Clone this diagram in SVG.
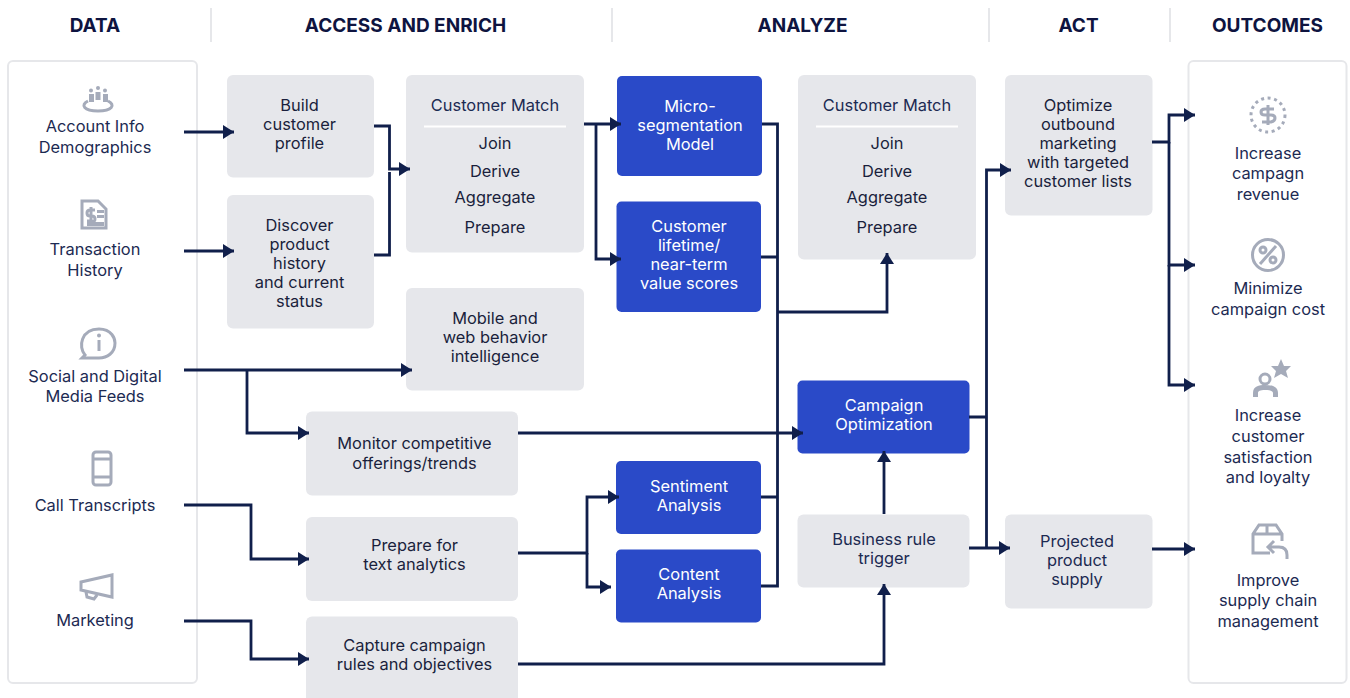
<svg xmlns="http://www.w3.org/2000/svg" width="1350" height="698" viewBox="0 0 1350 698">
<style>
text{font-family:"Inter","Noto Sans","Liberation Sans",sans-serif;font-size:16.4px;text-anchor:middle;fill:#1a1f3c}
.h{font-size:19px;font-weight:700;fill:#0e1440}
.s{fill:#1c2a52}
.w{fill:#fff}
.g{fill:#e6e7eb}
.b{fill:#2a4ac8}
.p{fill:#fff;stroke:#e6e7ea;stroke-width:2}
.d{stroke:#e6e7ea;stroke-width:2}
.c path{fill:none;stroke:#101f4b;stroke-width:2.8}
.i{fill:none;stroke:#a5abba;stroke-width:3}
.f{fill:#a5abba}
</style>
<defs><marker id="a" markerUnits="userSpaceOnUse" markerWidth="12" markerHeight="14" refX="11" refY="7" orient="auto"><path d="M0 0L11 7L0 14Z" fill="#101f4b"/></marker></defs>
<rect width="1350" height="698" fill="#fff"/>
<g id="headers">
<text class="h" x="95" y="32">DATA</text><text class="h" x="405.500" y="32">ACCESS AND ENRICH</text><text class="h" x="802.500" y="32">ANALYZE</text><text class="h" x="1078.500" y="32">ACT</text><text class="h" x="1267.500" y="32">OUTCOMES</text>
<path class="d" d="M211 8V42M612 8V42M989 8V42M1170 8V42"/>
</g>
<rect class="p" x="8" y="61" width="189" height="622" rx="5"/>
<rect class="p" x="1188.500" y="61" width="158" height="622" rx="5"/>
<g id="n-build"><rect class="g" x="227" y="75" width="147" height="102.500" rx="6"/><text x="299.500" y="111">Build</text><text x="299.500" y="130">customer</text><text x="299.500" y="149">profile</text></g>
<g id="n-discover"><rect class="g" x="227" y="195" width="147" height="133.500" rx="6"/><text x="299.500" y="231">Discover</text><text x="299.500" y="250">product</text><text x="299.500" y="269">history</text><text x="299.500" y="288">and current</text><text x="299.500" y="307">status</text></g>
<g id="n-match1"><rect class="g" x="406" y="75" width="178" height="177.500" rx="6"/><text class="s" x="495" y="111">Customer Match</text><path d="M424 126.500H566" stroke="#fff" stroke-width="2"/><text x="495" y="149">Join</text><text x="495" y="177">Derive</text><text x="495" y="203">Aggregate</text><text x="495" y="233">Prepare</text></g>
<g id="n-mobile"><rect class="g" x="406" y="288" width="178" height="102.500" rx="6"/><text x="495" y="324">Mobile and</text><text x="495" y="343">web behavior</text><text x="495" y="362">intelligence</text></g>
<g id="n-monitor"><rect class="g" x="306" y="411.500" width="212" height="84" rx="6"/><text x="414.500" y="449">Monitor competitive</text><text x="414.500" y="469">offerings/trends</text></g>
<g id="n-prepare"><rect class="g" x="306" y="517" width="212" height="84" rx="6"/><text x="414.500" y="551">Prepare for</text><text x="414.500" y="570">text analytics</text></g>
<g id="n-capture"><rect class="g" x="306" y="616.500" width="212" height="90" rx="6"/><text x="414.500" y="651">Capture campaign</text><text x="414.500" y="670">rules and objectives</text></g>
<g id="n-micro"><rect class="b" x="617" y="76" width="145" height="100" rx="5"/><text class="w" x="690" y="112">Micro-</text><text class="w" x="690" y="131">segmentation</text><text class="w" x="690" y="150">Model</text></g>
<g id="n-lifetime"><rect class="b" x="616.500" y="201.500" width="144.500" height="110.500" rx="5"/><text class="w" x="689" y="232">Customer</text><text class="w" x="689" y="251">lifetime/</text><text class="w" x="689" y="270">near-term</text><text class="w" x="689" y="289">value scores</text></g>
<g id="n-sentiment"><rect class="b" x="616" y="461" width="145" height="73" rx="5"/><text class="w" x="689" y="492">Sentiment</text><text class="w" x="689" y="511">Analysis</text></g>
<g id="n-content"><rect class="b" x="616" y="549.500" width="145" height="73" rx="5"/><text class="w" x="689" y="580">Content</text><text class="w" x="689" y="599">Analysis</text></g>
<g id="n-match2"><rect class="g" x="798" y="75" width="178" height="184.500" rx="6"/><text class="s" x="887" y="111">Customer Match</text><path d="M816 126.500H958" stroke="#fff" stroke-width="2"/><text x="887" y="149">Join</text><text x="887" y="177">Derive</text><text x="887" y="203">Aggregate</text><text x="887" y="233">Prepare</text></g>
<g id="n-campaign"><rect class="b" x="797.500" y="380.500" width="172" height="73" rx="5"/><text class="w" x="884" y="411">Campaign</text><text class="w" x="884" y="430">Optimization</text></g>
<g id="n-business"><rect class="g" x="797.500" y="514.500" width="172" height="73" rx="6"/><text class="s" x="884" y="545">Business rule</text><text class="s" x="884" y="564">trigger</text></g>
<g id="n-optimize"><rect class="g" x="1005" y="75" width="147.500" height="140.500" rx="6"/><text x="1078" y="111">Optimize</text><text x="1078" y="130">outbound</text><text x="1078" y="149">marketing</text><text x="1078" y="168">with targeted</text><text x="1078" y="187">customer lists</text></g>
<g id="n-projected"><rect class="g" x="1005" y="514.500" width="147.500" height="94" rx="6"/><text class="s" x="1077" y="547">Projected</text><text class="s" x="1077" y="566">product</text><text class="s" x="1077" y="585">supply</text></g>
<g id="d-account"><circle class="f" cx="91" cy="90.500" r="2"/><circle class="f" cx="98" cy="88" r="2"/><circle class="f" cx="105" cy="90.500" r="2"/><path class="f" d="M89 94h5v8h-5zM95.500 92h5v8h-5zM103 94h5v8h-5z"/><path class="i" stroke-width="2.500" d="M88 101C80 105 84 111 98 111S116 105 108 101"/><text class="s" x="95" y="132">Account Info</text><text class="s" x="95" y="153">Demographics</text></g>
<g id="d-transaction"><path class="i" d="M82 201H98L106 209V228H82Z"/><path class="f" d="M87 222H104V226H87ZM97 210H104V213H97ZM97 215H104V218H97Z"/><path class="i" stroke-width="2.200" d="M95 210H90Q87 210 87 213T90 216H92Q95 216 95 219T92 221H87M91 207V223"/><text class="s" x="95" y="255">Transaction</text><text class="s" x="95" y="276">History</text></g>
<g id="d-social"><path class="i" d="M85 355C78 347 81 329 99 329C112 329 115 339 115 343C115 353 107 358 99 358H82Z"/><circle class="f" cx="99" cy="335.500" r="2"/><path class="i" d="M99 340V351"/><text class="s" x="95" y="382">Social and Digital</text><text class="s" x="95" y="402">Media Feeds</text></g>
<g id="d-call"><rect class="i" x="93" y="452" width="18" height="33" rx="3"/><path class="i" d="M93 459H111M93 477H111"/><text class="s" x="95" y="511">Call Transcripts</text></g>
<g id="d-marketing"><path class="i" d="M81 582L112 575V597L81 590ZM86 592L87 597L94 599L97 595"/><text class="s" x="95" y="626">Marketing</text></g>
<g id="o-revenue"><circle class="i" cx="1268" cy="115" r="17" stroke-dasharray="3 3.600"/><path class="i" d="M1274 109H1265Q1261 109 1261 112T1265 115H1271Q1275 115 1275 118T1271 122H1262M1268 105V125"/><text class="s" x="1268" y="159">Increase</text><text class="s" x="1268" y="179">campagn</text><text class="s" x="1268" y="200">revenue</text></g>
<g id="o-cost"><circle class="i" cx="1268" cy="255" r="15.500"/><circle class="i" cx="1263" cy="250" r="3" stroke-width="2.500"/><circle class="i" cx="1273" cy="260" r="3" stroke-width="2.500"/><path class="i" d="M1260 264L1276 246"/><text class="s" x="1268" y="294">Minimize</text><text class="s" x="1268" y="315">campaign cost</text></g>
<g id="o-satisfaction"><circle class="i" cx="1265" cy="379" r="5"/><path class="f" d="M1253 397V393C1253 386 1259 385 1265 385S1278 386 1278 393V397H1273V393C1273 391 1270 390 1265 390S1258 391 1258 393V397Z"/><path class="f" d="M1281 359L1284 366L1291 366L1286 371L1288 378L1281 374L1274 378L1276 371L1271 366L1278 366Z"/><text class="s" x="1268" y="421">Increase</text><text class="s" x="1268" y="442">customer</text><text class="s" x="1268" y="463">satisfaction</text><text class="s" x="1268" y="483">and loyalty</text></g>
<g id="o-supply"><path class="i" d="M1270 553H1253V534L1259 525H1276L1282 534V541M1253 534H1282M1267 525V534"/><path class="i" d="M1287 559V555Q1287 547 1279 547H1268M1274 541L1268 547L1274 553"/><text class="s" x="1268" y="586">Improve</text><text class="s" x="1268" y="606">supply chain</text><text class="s" x="1268" y="627">management</text></g>
<g id="connectors" class="c">
<path marker-end="url(#a)" d="M184 132H234"/>
<path marker-end="url(#a)" d="M184 251H234"/>
<path marker-end="url(#a)" d="M374 126H389.500V169H410"/>
<path d="M374 255H389.500V172"/>
<path marker-end="url(#a)" d="M184 370H412"/>
<path marker-end="url(#a)" d="M247 370V433H309"/>
<path marker-end="url(#a)" d="M184 505H251V559H309"/>
<path marker-end="url(#a)" d="M184 621H251V659H309"/>
<path marker-end="url(#a)" d="M584 124H621"/>
<path marker-end="url(#a)" d="M596 124V259H621"/>
<path d="M762 124H777.500V586H761M761 257H777.500M761 497H777.500"/>
<path marker-end="url(#a)" d="M777.500 312H887V253"/>
<path marker-end="url(#a)" d="M518 433H803"/>
<path marker-end="url(#a)" d="M518 553H587V497H619"/>
<path marker-end="url(#a)" d="M587 553V587H611"/>
<path marker-end="url(#a)" d="M518 664H884V584"/>
<path marker-end="url(#a)" d="M884 514V451"/>
<path marker-end="url(#a)" d="M969 548H1010"/>
<path marker-end="url(#a)" d="M969 417H986.500V548M986.500 417V170H1011"/>
<path marker-end="url(#a)" d="M1152 142H1169V115H1195"/>
<path marker-end="url(#a)" d="M1169 142V265H1195"/>
<path marker-end="url(#a)" d="M1169 265V385H1195"/>
<path marker-end="url(#a)" d="M1152 549H1195"/>
</g>
</svg>
